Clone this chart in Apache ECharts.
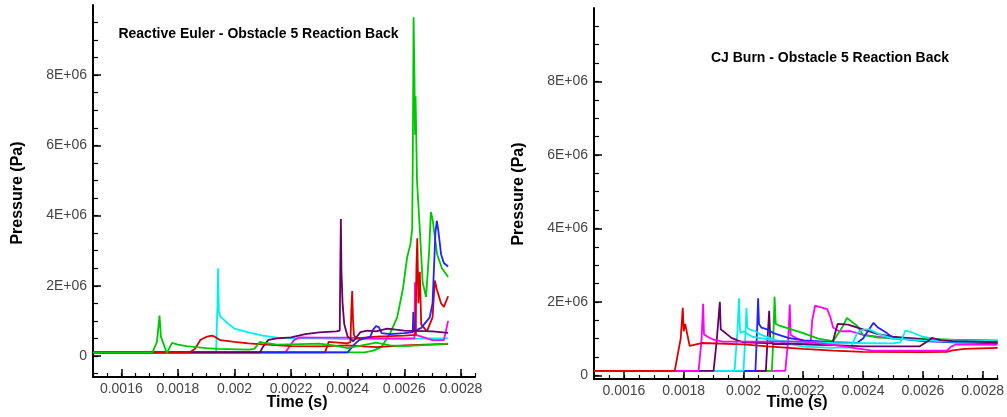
<!DOCTYPE html>
<html>
<head>
<meta charset="utf-8">
<script src="https://cdn.jsdelivr.net/npm/echarts@6/dist/echarts.min.js"></script>
<style>
html,body{margin:0;padding:0;background:#fff;}
#chart{width:1007px;height:417px;}
</style>
</head>
<body>
<div id="chart"></div>
<script>
// ---------- tick labels ----------
const xMajorTicks = [0.0016, 0.0018, 0.002, 0.0022, 0.0024, 0.0026, 0.0028];
const xMinorTicks = [0.0015, 0.00155, 0.0016, 0.00165, 0.0017, 0.00175, 0.0018, 0.00185, 0.0019, 0.00195,
  0.002, 0.00205, 0.0021, 0.00215, 0.0022, 0.00225, 0.0023, 0.00235, 0.0024, 0.00245,
  0.0025, 0.00255, 0.0026, 0.00265, 0.0027, 0.00275, 0.0028, 0.00285];
const yMajorTicks = [0, 2e6, 4e6, 6e6, 8e6];
const yMinorTicksLeft = [-5e5, 0, 5e5, 1e6, 1.5e6, 2e6, 2.5e6, 3e6, 3.5e6, 4e6, 4.5e6, 5e6, 5.5e6, 6e6, 6.5e6, 7e6, 7.5e6, 8e6, 8.5e6, 9e6, 9.5e6];
const yMinorTicksRight = [0, 5e5, 1e6, 1.5e6, 2e6, 2.5e6, 3e6, 3.5e6, 4e6, 4.5e6, 5e6, 5.5e6, 6e6, 6.5e6, 7e6, 7.5e6, 8e6, 8.5e6, 9e6, 9.5e6];

// ---------- Left: Reactive Euler (time s, pressure Pa) ----------
const euGreen1 = [[0.0015,1e5],[0.00171,1e5],[0.001726,4.0e5],[0.001735,1.15e6],[0.00174,5.5e5],[0.001761,0.8e5],[0.001779,3.7e5],[0.0018,3.2e5],[0.00183,2.8e5],[0.0019,2.2e5],[0.00194,2.0e5],[0.00205,1.8e5],[0.00207,2.0e5],[0.00209,4.0e5],[0.0021,3.8e5],[0.00215,3.2e5],[0.0022,3.3e5],[0.0023,3.5e5],[0.00235,3.0e5],[0.0024,2.2e5],[0.00245,3.0e5],[0.0025,3.8e5],[0.00255,3.0e5],[0.0026,2.8e5],[0.00265,3.0e5],[0.0027,3.2e5],[0.002755,3.5e5]];
const euRed1 = [[0.0015,1e5],[0.00184,1e5],[0.00186,2.0e5],[0.00188,4.6e5],[0.0019,5.4e5],[0.00192,5.8e5],[0.00193,5.5e5],[0.00195,4.5e5],[0.002,4.0e5],[0.00205,3.6e5],[0.0021,3.3e5],[0.0022,2.8e5],[0.0023,2.7e5],[0.0024,3.0e5],[0.0025,2.5e5],[0.0026,3.0e5],[0.0027,3.3e5],[0.002755,3.4e5]];
const euCyan = [[0.0015,1e5],[0.001935,1e5],[0.00194,1.5e6],[0.001942,2.5e6],[0.001945,1.25e6],[0.00195,1.12e6],[0.00196,1.05e6],[0.00198,9.0e5],[0.002,7.8e5],[0.00205,6.7e5],[0.0021,5.8e5],[0.00215,5.2e5],[0.0022,5.0e5],[0.0023,5.0e5],[0.0024,4.8e5],[0.0025,4.7e5],[0.0026,4.8e5],[0.0027,5.0e5],[0.002755,5.0e5]];
const euPurple = [[0.0015,1e5],[0.00209,1e5],[0.0021,2.5e5],[0.00212,4.6e5],[0.00215,5.0e5],[0.0022,5.3e5],[0.00225,6.2e5],[0.0023,6.7e5],[0.00236,7.0e5],[0.002372,7.2e5],[0.002374,2.5e6],[0.002376,3.9e6],[0.002378,2.4e6],[0.002382,1.5e6],[0.002388,9.0e5],[0.0024,5.5e5],[0.00242,4.2e5],[0.002445,6.8e5],[0.00247,7.2e5],[0.0025,7.0e5],[0.00254,7.8e5],[0.0026,7.2e5],[0.0027,7.0e5],[0.002755,6.6e5]];
const euMagenta = [[0.0015,1e5],[0.00218,1e5],[0.00221,4.5e5],[0.00223,5.3e5],[0.0023,5.2e5],[0.0024,5.2e5],[0.0025,5.0e5],[0.0026,5.0e5],[0.002636,5.0e5],[0.002638,2.1e6],[0.002641,6.0e5],[0.0027,4.5e5],[0.00274,4.5e5],[0.002755,1.0e6]];
const euRed2 = [[0.0015,1e5],[0.00232,1e5],[0.002333,4.0e5],[0.0024,3.6e5],[0.00241,4.0e5],[0.002413,1.3e6],[0.002416,1.85e6],[0.002419,1.0e6],[0.002422,6.0e5],[0.00243,5.0e5],[0.0025,5.5e5],[0.0026,5.8e5],[0.00264,6.0e5],[0.002643,2.5e6],[0.002646,3.35e6],[0.00265,1.5e6],[0.002655,2.4e6],[0.00266,9.0e5],[0.00268,7.0e5],[0.0027,1.1e6],[0.002708,2.15e6],[0.002715,1.9e6],[0.00273,1.5e6],[0.00274,1.4e6],[0.002755,1.7e6]];
const euBlue = [[0.0015,1e5],[0.0024,1e5],[0.00242,3.0e5],[0.00244,4.5e5],[0.00248,5.5e5],[0.00249,7.5e5],[0.0025,8.5e5],[0.00251,8.2e5],[0.00252,6.5e5],[0.00255,6.2e5],[0.0026,6.5e5],[0.00263,6.8e5],[0.002632,1.25e6],[0.002635,7.0e5],[0.00266,8.0e5],[0.00269,1.1e6],[0.0027,1.5e6],[0.002705,2.5e6],[0.00271,3.5e6],[0.002715,3.85e6],[0.00272,3.6e6],[0.00273,2.9e6],[0.00274,2.65e6],[0.002755,2.55e6]];
const euGreen3 = [[0.0015,1e5],[0.00246,1e5],[0.00249,1.5e5],[0.00252,2.6e5],[0.00255,6.4e5],[0.002575,1.1e6],[0.002595,1.9e6],[0.00261,2.8e6],[0.002622,3.2e6],[0.002628,3.6e6],[0.00263,5.5e6],[0.002633,9.65e6],[0.002636,8.0e6],[0.002638,6.3e6],[0.00264,7.4e6],[0.002645,5.0e6],[0.002655,3.6e6],[0.002665,2.1e6],[0.002677,1.68e6],[0.002688,3.0e6],[0.002694,4.1e6],[0.0027,3.9e6],[0.002716,2.9e6],[0.002733,2.5e6],[0.002755,2.25e6]];

// ---------- Right: CJ Burn ----------
const cjRed = [[0.0015,1.2e5],[0.00177,1.2e5],[0.00179,1.0e6],[0.001797,1.84e6],[0.0018,1.2e6],[0.001805,1.4e6],[0.00182,8.0e5],[0.00186,8.8e5],[0.002,8.4e5],[0.00208,7.9e5],[0.0022,7.2e5],[0.0023,6.7e5],[0.0024,6.4e5],[0.0026,6.3e5],[0.00268,6.4e5],[0.0027,6.8e5],[0.00274,7.2e5],[0.00285,7.5e5]];
const cjMagenta1 = [[0.0015,1.2e5],[0.00185,1.2e5],[0.00186,1.0e6],[0.001865,1.95e6],[0.001868,1.12e6],[0.00188,1.05e6],[0.0019,9.7e5],[0.00193,9.2e5],[0.0022,9.2e5],[0.0023,8.3e5],[0.00243,6.7e5],[0.00268,6.7e5],[0.002695,7.8e5],[0.00271,8.4e5],[0.00285,8.3e5]];
const cjPurple1 = [[0.0015,1.2e5],[0.0019,1.2e5],[0.00191,9.0e5],[0.001918,1.7e6],[0.001921,2.0e6],[0.001924,1.25e6],[0.00193,1.2e6],[0.00194,1.15e6],[0.00196,1.02e6],[0.00198,9.5e5],[0.002,9.0e5],[0.0021,8.7e5],[0.0022,8.5e5],[0.0023,8.2e5],[0.0024,7.9e5],[0.00259,7.9e5],[0.00262,9.5e5],[0.00263,1.02e6],[0.00266,9.6e5],[0.0027,9.3e5],[0.00285,9.0e5]];
const cjCyan1 = [[0.0015,1.2e5],[0.00197,1.2e5],[0.00198,1.2e6],[0.001985,2.1e6],[0.001988,1.3e6],[0.00199,1.15e6],[0.002,1.2e6],[0.00203,1.05e6],[0.0021,9.5e5],[0.0022,9.0e5],[0.0023,8.8e5],[0.0025,8.7e5],[0.002525,9.0e5],[0.002542,1.22e6],[0.00256,1.18e6],[0.0026,1.05e6],[0.00265,9.7e5],[0.0027,9.5e5],[0.00285,9.3e5]];
const cjCyan2 = [[0.0015,1.2e5],[0.002,1.2e5],[0.002006,1.0e6],[0.00201,1.83e6],[0.002013,1.3e6],[0.00202,1.25e6],[0.00204,1.2e6],[0.00206,1.1e6],[0.0021,9.8e5],[0.00213,9.0e5],[0.0022,7.8e5],[0.0023,7.5e5],[0.00236,7.6e5],[0.00238,1.15e6],[0.0024,1.25e6],[0.00242,1.25e6],[0.00246,1.1e6],[0.0025,1.0e6],[0.0026,9.5e5],[0.0027,9.2e5],[0.00285,9.0e5]];
const cjBlue = [[0.0015,1.2e5],[0.00204,1.2e5],[0.002045,1.1e6],[0.002049,2.1e6],[0.002052,1.4e6],[0.00206,1.3e6],[0.00208,1.25e6],[0.0021,1.15e6],[0.00215,1.02e6],[0.0022,9.5e5],[0.0023,9.0e5],[0.00238,8.8e5],[0.0024,1.0e6],[0.00242,1.25e6],[0.002435,1.43e6],[0.00245,1.3e6],[0.00248,1.15e6],[0.0025,1.02e6],[0.0026,9.3e5],[0.0027,9.0e5],[0.00285,8.7e5]];
const cjPurple2 = [[0.0015,1.2e5],[0.002075,1.2e5],[0.00208,9.0e5],[0.002086,1.76e6],[0.00209,9.0e5],[0.0021,8.5e5],[0.0022,8.4e5],[0.00229,8.3e5],[0.0023,9.5e5],[0.002315,1.4e6],[0.00232,1.45e6],[0.00235,1.38e6],[0.0024,1.25e6],[0.00245,1.12e6],[0.0025,1.05e6],[0.0026,9.8e5],[0.0027,9.3e5],[0.00285,8.8e5]];
const cjGreen = [[0.0015,1.2e5],[0.002095,1.2e5],[0.0021,1.0e6],[0.002104,2.14e6],[0.002108,1.4e6],[0.00212,1.35e6],[0.00215,1.28e6],[0.0022,1.15e6],[0.00225,1.0e6],[0.0023,9.3e5],[0.00233,1.3e6],[0.002346,1.56e6],[0.00238,1.35e6],[0.0024,1.1e6],[0.00245,1.03e6],[0.0025,1.02e6],[0.0026,1.0e6],[0.0027,9.7e5],[0.00285,9.5e5]];
const cjMagenta2 = [[0.0015,1.2e5],[0.00214,1.2e5],[0.00215,1.0e6],[0.002155,1.93e6],[0.002158,1.1e6],[0.00218,1.0e6],[0.0022,9.5e5],[0.002225,9.0e5],[0.00223,1.5e6],[0.00224,1.9e6],[0.00226,1.85e6],[0.00228,1.8e6],[0.00229,1.6e6],[0.0023,1.3e6],[0.00232,1.2e6],[0.00236,1.2e6],[0.0024,1.1e6],[0.0025,1.0e6],[0.0026,9.7e5],[0.0027,9.5e5],[0.00285,9.3e5]];

const C = {red:'#dd0000', green:'#00c800', blue:'#2222ff', cyan:'#00f0f0', purple:'#660066', magenta:'#ff00ff'};

const FONT = '"Liberation Sans", Arial, sans-serif';
const labelColor = '#444';

function xAxes(grid) {
  return [
    { type:'value', gridIndex:grid, min:0.0015, max:0.00285, position:'bottom',
      axisLine:{show:true, onZero:false, lineStyle:{color:'#000', width:2}},
      axisTick:{show:true, inside:true, length:8, lineStyle:{color:'#000', width:1.5}, customValues:xMajorTicks},
      axisLabel:{show:true, customValues:xMajorTicks, margin:5, color:labelColor, fontSize:14, fontFamily:FONT,
        formatter:v => String(parseFloat(v.toFixed(5)))},
      splitLine:{show:false} },
    { type:'value', gridIndex:grid, min:0.0015, max:0.00285, position:'bottom',
      axisLine:{show:false, onZero:false},
      axisTick:{show:true, inside:true, length:4, lineStyle:{color:'#000', width:1.2}, customValues:xMinorTicks},
      axisLabel:{show:false}, splitLine:{show:false} }
  ];
}
function yAxes(grid, min, minor) {
  return [
    { type:'value', gridIndex:grid, min:min, max:1e7, position:'left',
      axisLine:{show:true, onZero:false, lineStyle:{color:'#000', width:2}},
      axisTick:{show:true, inside:true, length:8, lineStyle:{color:'#000', width:1.5}, customValues:yMajorTicks},
      axisLabel:{show:true, customValues:yMajorTicks, margin:6, color:labelColor, fontSize:14, fontFamily:FONT,
        formatter:v => v === 0 ? '0' : (v/1e6) + 'E+06'},
      splitLine:{show:false} },
    { type:'value', gridIndex:grid, min:min, max:1e7, position:'left',
      axisLine:{show:false, onZero:false},
      axisTick:{show:true, inside:true, length:5, lineStyle:{color:'#000', width:1.2}, customValues:minor},
      axisLabel:{show:false}, splitLine:{show:false} }
  ];
}

function line(data, color, xi, yi) {
  return { type:'line', data:data, xAxisIndex:xi, yAxisIndex:yi, showSymbol:false, symbol:'none',
    lineStyle:{color:color, width:1.8}, itemStyle:{color:color}, animation:false, silent:true, clip:true };
}

const series = [
  // left (bottom-most first)
  line(euCyan, C.cyan, 0, 0),
  line(euGreen3, C.green, 0, 0),
  line(euMagenta, C.magenta, 0, 0),
  line(euRed2, C.red, 0, 0),
  line(euBlue, C.blue, 0, 0),
  line(euPurple, C.purple, 0, 0),
  line(euRed1, C.red, 0, 0),
  line(euGreen1, C.green, 0, 0),
  // right
  line(cjMagenta2, C.magenta, 2, 2),
  line(cjGreen, C.green, 2, 2),
  line(cjPurple2, C.purple, 2, 2),
  line(cjBlue, C.blue, 2, 2),
  line(cjCyan2, C.cyan, 2, 2),
  line(cjCyan1, C.cyan, 2, 2),
  line(cjPurple1, C.purple, 2, 2),
  line(cjMagenta1, C.magenta, 2, 2),
  line(cjRed, C.red, 2, 2)
];

function txt(text, x, y, size, bold, rot) {
  return { type:'text', x:x, y:y, rotation:rot || 0, silent:true,
    style:{ text:text, x:0, y:0, fill:'#000', fontSize:size, fontWeight:bold ? 'bold' : 'normal',
      fontFamily:FONT, align:'center', verticalAlign:'middle' } };
}

const chart = echarts.init(document.getElementById('chart'), null, {renderer:'canvas'});
chart.setOption({
  backgroundColor:'#fff',
  animation:false,
  grid:[
    {left:93, top:5, width:382, height:372},
    {left:594, top:8, width:408, height:371}
  ],
  xAxis:[...xAxes(0), ...xAxes(1)],
  yAxis:[...yAxes(0, -6e5, yMinorTicksLeft), ...yAxes(1, -1e5, yMinorTicksRight)],
  series:series,
  graphic:[
    txt('Reactive Euler - Obstacle 5 Reaction Back', 258.5, 34, 14, true),
    txt('CJ Burn - Obstacle 5 Reaction Back', 830, 58, 14, true),
    txt('Time (s)', 297, 403, 16, true),
    txt('Time (s)', 797, 403, 16, true),
    txt('Pressure (Pa)', 18, 193, 16, true, Math.PI/2),
    txt('Pressure (Pa)', 519, 194, 16, true, Math.PI/2)
  ]
});
</script>
</body>
</html>
